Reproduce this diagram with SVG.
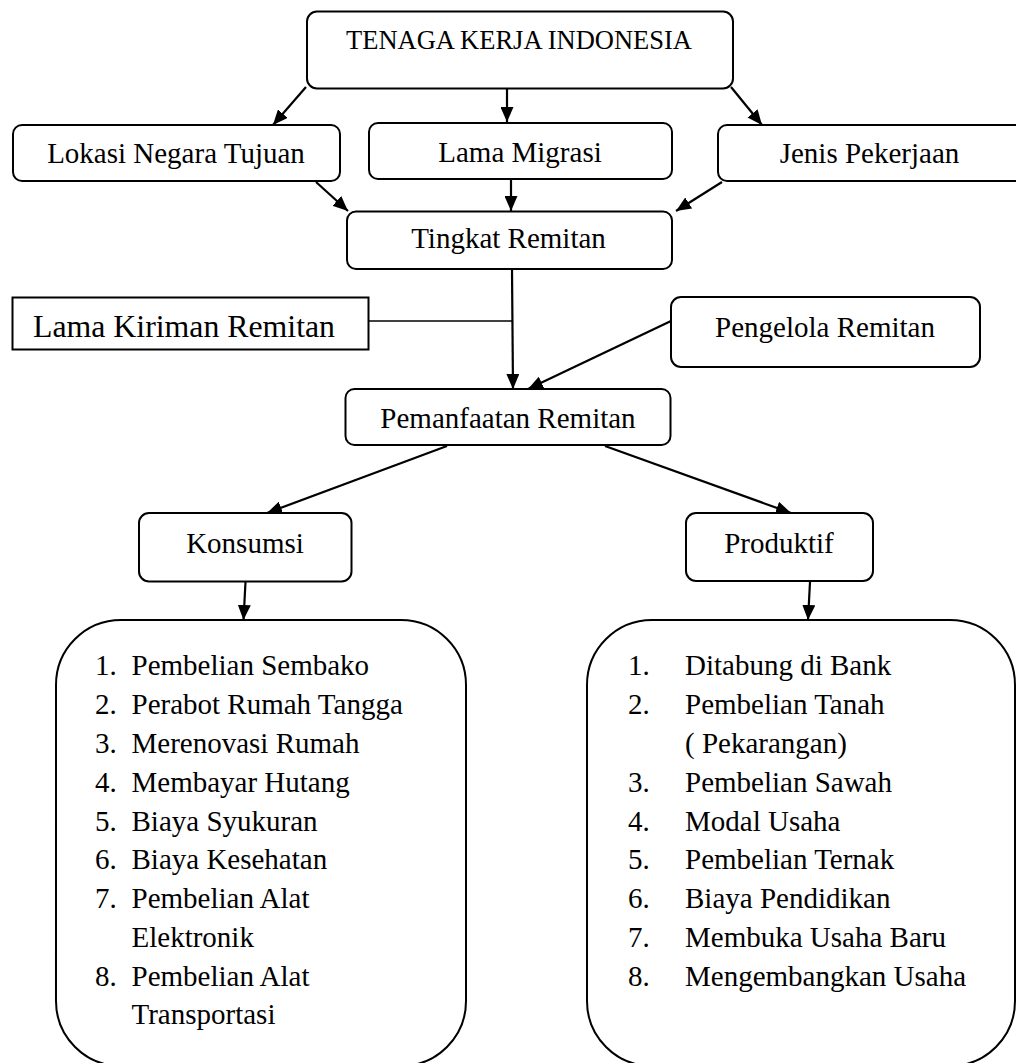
<svg xmlns="http://www.w3.org/2000/svg" width="1016" height="1063" viewBox="0 0 1016 1063">
<style>
.box{fill:#fff;stroke:#000;stroke-width:2}
.t{font-family:"Liberation Serif","Times New Roman",serif;font-size:29px;fill:#000}
.c{text-anchor:middle}
.ln{stroke:#000;stroke-width:2.2;fill:none}
</style>
<defs>
<marker id="ah" markerUnits="userSpaceOnUse" markerWidth="15" markerHeight="13" refX="15" refY="6.5" orient="auto">
<path d="M0,0 L15,6.5 L0,13 z" fill="#000"/>
</marker>
</defs>
<rect width="1016" height="1063" fill="#fff"/>
<g id="connectors">
<line class="ln" x1="306" y1="87" x2="273" y2="125" marker-end="url(#ah)"/>
<line class="ln" x1="507" y1="87" x2="507" y2="122" marker-end="url(#ah)"/>
<line class="ln" x1="731" y1="87" x2="762" y2="125" marker-end="url(#ah)"/>
<line class="ln" x1="316" y1="182" x2="348" y2="211" marker-end="url(#ah)"/>
<line class="ln" x1="511" y1="180" x2="511" y2="211" marker-end="url(#ah)"/>
<line class="ln" x1="722" y1="182" x2="676" y2="211" marker-end="url(#ah)"/>
<line class="ln" x1="512" y1="270" x2="513" y2="389" marker-end="url(#ah)"/>
<line x1="368" y1="321" x2="512" y2="321" stroke="#000" stroke-width="1.5"/>
<line class="ln" x1="671" y1="321" x2="528" y2="389" marker-end="url(#ah)"/>
<line class="ln" x1="447" y1="446" x2="267" y2="513" marker-end="url(#ah)"/>
<line class="ln" x1="605" y1="446" x2="791" y2="513" marker-end="url(#ah)"/>
<line class="ln" x1="245.5" y1="582" x2="243.5" y2="620" marker-end="url(#ah)"/>
<line class="ln" x1="810" y1="582" x2="808" y2="620" marker-end="url(#ah)"/>
</g>
<g id="tki">
<rect class="box" x="307" y="11.5" width="426" height="77" rx="10"/>
<text class="t c" x="519" y="49" style="font-size:26.5px">TENAGA KERJA INDONESIA</text>
</g>
<g id="lokasi">
<rect class="box" x="13" y="125" width="327" height="56" rx="9"/>
<text class="t c" x="176" y="163">Lokasi Negara Tujuan</text>
</g>
<g id="lama-migrasi">
<rect class="box" x="369" y="123" width="303" height="56" rx="9"/>
<text class="t c" x="520" y="162">Lama Migrasi</text>
</g>
<g id="jenis">
<rect class="box" x="718" y="125" width="310" height="56" rx="9"/>
<text class="t c" x="869.5" y="163">Jenis Pekerjaan</text>
</g>
<g id="tingkat">
<rect class="box" x="347" y="211.5" width="325" height="57.5" rx="9"/>
<text class="t c" x="508.5" y="248">Tingkat Remitan</text>
</g>
<g id="lama-kiriman">
<rect class="box" x="12.5" y="297.5" width="356" height="52" stroke-width="1.8"/>
<text class="t" x="33" y="337" style="font-size:31.8px">Lama Kiriman Remitan</text>
</g>
<g id="pengelola">
<rect class="box" x="671" y="297" width="309" height="70" rx="10"/>
<text class="t c" x="825" y="337">Pengelola Remitan</text>
</g>
<g id="pemanfaatan">
<rect class="box" x="345.5" y="389" width="325" height="56" rx="9"/>
<text class="t c" x="508" y="428">Pemanfaatan Remitan</text>
</g>
<g id="konsumsi">
<rect class="box" x="139" y="513" width="212.5" height="68.5" rx="10"/>
<text class="t c" x="245" y="553">Konsumsi</text>
</g>
<g id="produktif">
<rect class="box" x="686" y="513" width="187" height="68" rx="10"/>
<text class="t c" x="779" y="553">Produktif</text>
</g>
<g id="konsumsi-list">
<rect class="box" x="56" y="620" width="410" height="446" rx="65"/>
<g class="t">
<text x="95" y="675">1.</text><text x="131.5" y="675">Pembelian Sembako</text>
<text x="95" y="714">2.</text><text x="131.5" y="714">Perabot Rumah Tangga</text>
<text x="95" y="753">3.</text><text x="131.5" y="753">Merenovasi Rumah</text>
<text x="95" y="792">4.</text><text x="131.5" y="792">Membayar Hutang</text>
<text x="95" y="831">5.</text><text x="131.5" y="831">Biaya Syukuran</text>
<text x="95" y="869">6.</text><text x="131.5" y="869">Biaya Kesehatan</text>
<text x="95" y="908">7.</text><text x="131.5" y="908">Pembelian Alat</text>
<text x="131.5" y="947">Elektronik</text>
<text x="95" y="986">8.</text><text x="131.5" y="986">Pembelian Alat</text>
<text x="131.5" y="1024">Transportasi</text>
</g>
</g>
<g id="produktif-list">
<rect class="box" x="587" y="620" width="428" height="446" rx="65"/>
<g class="t">
<text x="628" y="675">1.</text><text x="685" y="675">Ditabung di Bank</text>
<text x="628" y="714">2.</text><text x="685" y="714">Pembelian Tanah</text>
<text x="685" y="753">( Pekarangan)</text>
<text x="628" y="792">3.</text><text x="685" y="792">Pembelian Sawah</text>
<text x="628" y="831">4.</text><text x="685" y="831">Modal Usaha</text>
<text x="628" y="869">5.</text><text x="685" y="869">Pembelian Ternak</text>
<text x="628" y="908">6.</text><text x="685" y="908">Biaya Pendidikan</text>
<text x="628" y="947">7.</text><text x="685" y="947">Membuka Usaha Baru</text>
<text x="628" y="986">8.</text><text x="685" y="986">Mengembangkan Usaha</text>
</g>
</g>
</svg>
